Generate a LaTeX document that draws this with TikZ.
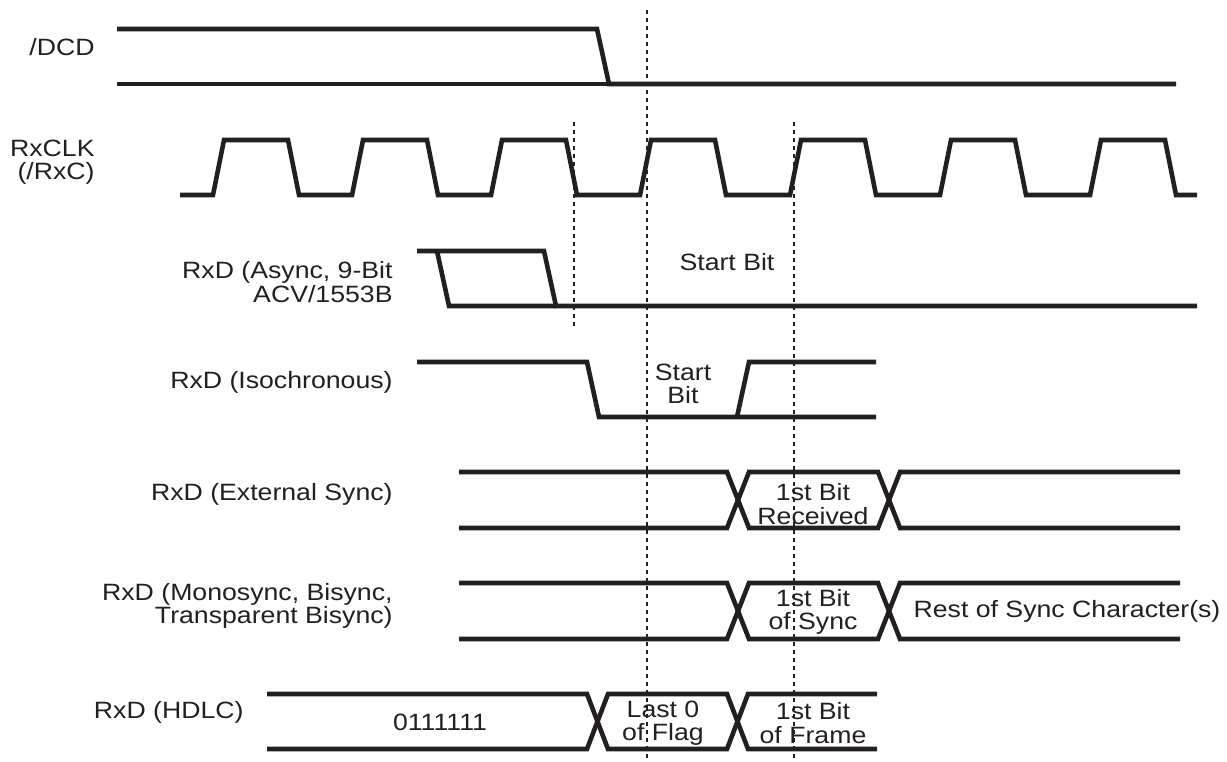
\documentclass[tikz,border=0pt]{standalone}
\usepackage{fontspec}
\setmainfont[FakeStretch=1.13]{Liberation Sans}
\usepackage{tikz}

\definecolor{tinte}{RGB}{35,31,32}
\tikzset{
  signal/.style={line width=2.3pt, color=tinte, line join=miter},
  hilfslinie/.style={line width=1.1pt, color=tinte, dash pattern=on 2pt off 2pt},
  sigtitel/.style={anchor=east, align=right, inner sep=0pt, text=tinte},
  inhalt/.style={align=center, inner sep=0pt, text=tinte}
}

\begin{document}
\begin{tikzpicture}[x=0.5pt, y=-0.5pt, font=\fontsize{11.8}{11.6}\selectfont]
		\useasboundingbox (0,0) rectangle (1227,761);
		
		%Beschriftung der Signale
		\node[sigtitel] (dcd)   at (95,47)   {/DCD};
		\node[sigtitel] (clk)   at (95,162)  {RxCLK\\(/RxC)};
		\node[sigtitel] (async) at (393,282) {RxD (Async, 9-Bit\\ACV/1553B};
		\node[sigtitel] (iso)   at (393,382) {RxD (Isochronous)};
		\node[sigtitel] (ext)   at (393,494) {RxD (External Sync)};
		\node[sigtitel] (mono)  at (393,606) {RxD (Monosync, Bisync,\\Transparent Bisync)};
		\node[sigtitel] (hdlc)  at (244,712) {RxD (HDLC)};
		
		%/DCD
		\draw[signal] (117,29) -- (597,29) -- (609,84) -- (1176,84);
		\draw[signal] (117,84) -- (609,84);
		
		%Takt
		\draw[signal] (180,195)
		\foreach \r in {213,352,491,640,790,940,1090} {
			-- (\r,195) -- ({\r+11},140) -- ({\r+75},140) -- ({\r+86},195)
		} -- (1197,195);
		
		%Async
		\draw[signal] (417,251) -- (544,251) -- (556,306) -- (1197,306);
		\draw[signal] (437,251) -- (449,306) -- (556,306);
		\node[inhalt] (start1) at (727,262) {Start Bit};
		
		%Isochronous
		\draw[signal] (417,362) -- (587,362) -- (599,417) -- (876,417);
		\draw[signal] (737,417) -- (749,362) -- (876,362);
		\node[inhalt] (start2) at (683,384) {Start\\Bit};
		
		%External Sync
		\draw[signal] (459,472) -- (727,472) -- (749,528) -- (878,528) -- (900,472) -- (1180,472);
		\draw[signal] (459,528) -- (727,528) -- (749,472) -- (878,472) -- (900,528) -- (1180,528);
		\node[inhalt] (recv) at (813,504) {1st Bit\\Received};
		
		%Monosync, Bisync
		\draw[signal] (459,583) -- (727,583) -- (749,639) -- (878,639) -- (900,583) -- (1180,583);
		\draw[signal] (459,639) -- (727,639) -- (749,583) -- (878,583) -- (900,639) -- (1180,639);
		\node[inhalt] (sync) at (813,612) {1st Bit\\of Sync};
		\node[inhalt] (rest) at (1067,611) {Rest of Sync Character(s)};
		
		%HDLC
		\draw[signal] (267,694) -- (587,694) -- (608,749) -- (727,749) -- (748,694) -- (877,694);
		\draw[signal] (267,749) -- (587,749) -- (608,694) -- (727,694) -- (748,749) -- (877,749);
		\node[inhalt] (flag)  at (440,722) {0111111};
		\node[inhalt] (last)  at (663,723) {Last 0\\of Flag};
		\node[inhalt] (frame) at (813,723) {1st Bit\\of Frame};
		
		%gepunktete Hilfslinien
		\draw[hilfslinie] (574,122) -- (574,328);
		\draw[hilfslinie] (647,10) -- (647,761);
		\draw[hilfslinie] (794,122) -- (794,761);
		
		\end{tikzpicture}
\end{document}
